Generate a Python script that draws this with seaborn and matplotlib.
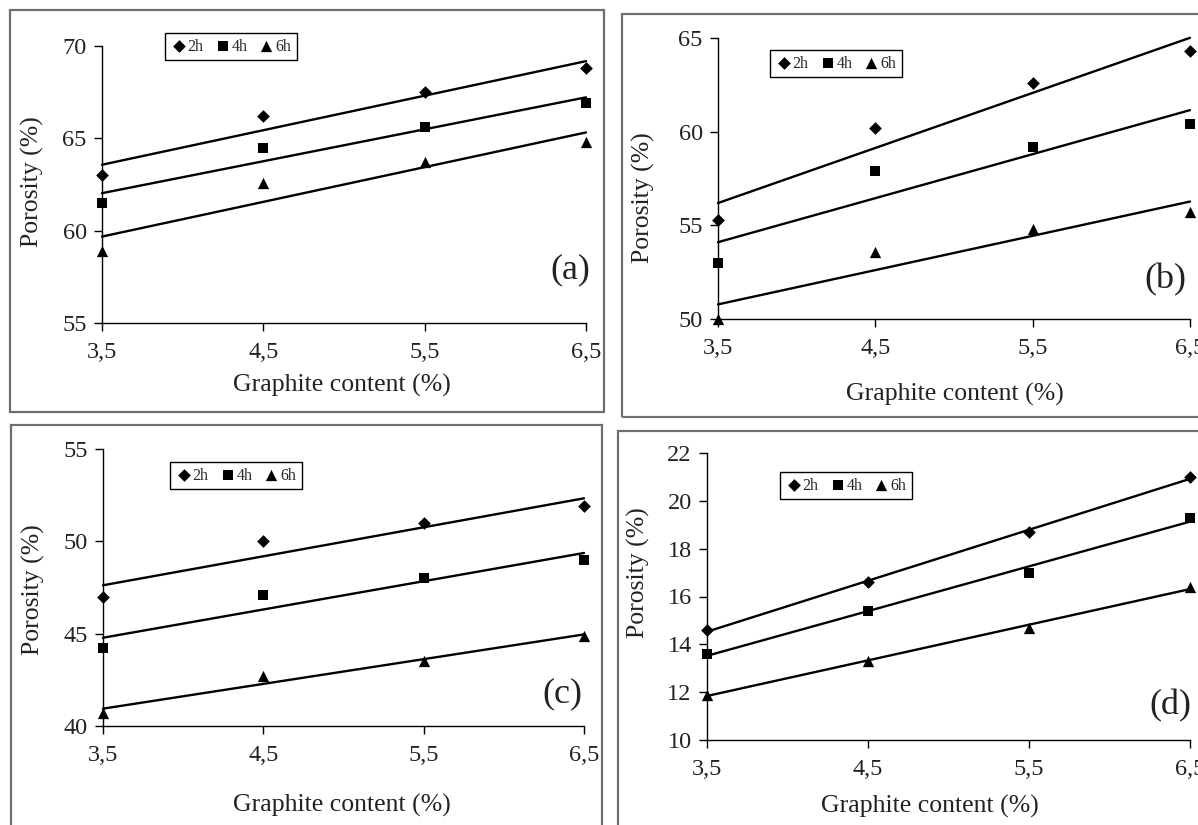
import matplotlib
matplotlib.use("Agg")
import matplotlib.pyplot as plt
from matplotlib.patches import Rectangle
import seaborn as sns

sns.set_style("ticks")
plt.rcParams["font.family"] = ["Liberation Serif", "DejaVu Serif"]

# ---------------------- DATA ---------------------- #
graphite = [3.5, 4.5, 5.5, 6.5]
graphite_labels = ["3,5", "4,5", "5,5", "6,5"]
times = ["2h", "4h", "6h"]
markers = ["D", "s", "^"]
marker_sizes = [42, 60, 66]

# (a)
a_2h = [63.0, 66.2, 67.5, 68.8]
a_4h = [61.5, 64.5, 65.6, 66.9]
a_6h = [58.9, 62.6, 63.7, 64.8]
yticks_a = [55, 60, 65, 70]

# (b)
b_2h = [55.3, 60.2, 62.6, 64.3]
b_4h = [53.0, 57.9, 59.2, 60.4]
b_6h = [50.0, 53.6, 54.8, 55.7]
yticks_b = [50, 55, 60, 65]

# (c)
c_2h = [47.0, 50.0, 51.0, 51.9]
c_4h = [44.2, 47.1, 48.0, 49.0]
c_6h = [40.7, 42.7, 43.5, 44.9]
yticks_c = [40, 45, 50, 55]

# (d)
d_2h = [14.6, 16.6, 18.7, 21.0]
d_4h = [13.6, 15.4, 17.0, 19.3]
d_6h = [11.9, 13.3, 14.7, 16.4]
yticks_d = [10, 12, 14, 16, 18, 20, 22]

W, H = 1198, 825
fig = plt.figure(figsize=(W / 100, H / 100), dpi=100)
fig.patch.set_facecolor("white")


def fig_rect(x0, y0, x1, y1):
    """pixel box (top-left origin) -> figure fraction [left, bottom, w, h]"""
    return [x0 / W, 1 - y1 / H, (x1 - x0) / W, (y1 - y0) / H]


def to_axes(box, px, py):
    x0, y0, x1, y1 = box
    return (px - x0) / (x1 - x0), (y1 - py) / (y1 - y0)


# panel layout in pixels: axes box, legend top-left, tag, ylabel, xlabel, frame
panels = [
    ("(a)", [a_2h, a_4h, a_6h], yticks_a, (102, 46, 586, 323), (165, 33), (570, 270), (32, 182), (342, 385), (10, 10, 604, 412)),
    ("(b)", [b_2h, b_4h, b_6h], yticks_b, (718, 38, 1190, 319), (770, 50), (1165, 280), (643, 198), (955, 394), (622, 14, 1215, 417)),
    ("(c)", [c_2h, c_4h, c_6h], yticks_c, (103, 449, 584, 726), (170, 462), (562, 694), (33, 590), (342, 805), (11, 425, 602, 840)),
    ("(d)", [d_2h, d_4h, d_6h], yticks_d, (707, 453, 1190, 740), (780, 472), (1170, 706), (638, 573), (930, 806), (618, 431, 1215, 840)),
]

for tag, series, yticks, box, leg, tag_pos, ylab, xlab, frame in panels:
    # grey frame around each sub-figure
    fx0, fy0, fx1, fy1 = frame
    fig.add_artist(Rectangle((fx0 / W, 1 - fy1 / H), (fx1 - fx0) / W, (fy1 - fy0) / H,
                             transform=fig.transFigure, fill=False,
                             edgecolor="#6e6e6e", linewidth=1.6))

    ax = fig.add_axes(fig_rect(*box))
    for values, t, m, s in zip(series, times, markers, marker_sizes):
        sns.regplot(x=graphite, y=values, ax=ax, ci=None, color="black", marker=m,
                    label=t, truncate=True,
                    scatter_kws={"s": s, "alpha": 1, "clip_on": False, "linewidths": 0, "zorder": 4},
                    line_kws={"linewidth": 1.7, "clip_on": False})

    ax.set_xlim(graphite[0], graphite[-1])
    ax.set_ylim(yticks[0], yticks[-1])
    ax.set_xticks(graphite)
    ax.set_xticklabels(graphite_labels)
    ax.set_yticks(yticks)
    sns.despine(ax=ax)
    for sp in ("left", "bottom"):
        ax.spines[sp].set_linewidth(1.0)
        ax.spines[sp].set_color("black")
    ax.tick_params(axis="both", direction="out", length=6, width=1.0, colors="black",
                   labelsize=17.5, labelcolor="#222222")
    ax.tick_params(axis="x", pad=8)
    ax.tick_params(axis="y", pad=5)

    ax.set_ylabel("Porosity (%)", fontsize=18.5, va="center", color="#222222")
    ax.yaxis.set_label_coords(*to_axes(box, *ylab))
    ax.set_xlabel("Graphite content (%)", fontsize=18.5, va="center", color="#222222")
    ax.xaxis.set_label_coords(*to_axes(box, *xlab))

    ax.text(*to_axes(box, *tag_pos), tag, transform=ax.transAxes, fontsize=26,
            ha="center", va="center", color="#222222")

    lg = ax.legend(loc="upper left", bbox_to_anchor=to_axes(box, *leg), ncol=3,
                   fontsize=11.5, frameon=True, fancybox=False, framealpha=1,
                   edgecolor="black", handletextpad=0.05, columnspacing=0.7,
                   borderpad=0.35, handlelength=1.0, borderaxespad=0)
    lg.get_frame().set_linewidth(1.0)

fig.savefig("out.png", dpi=100)
